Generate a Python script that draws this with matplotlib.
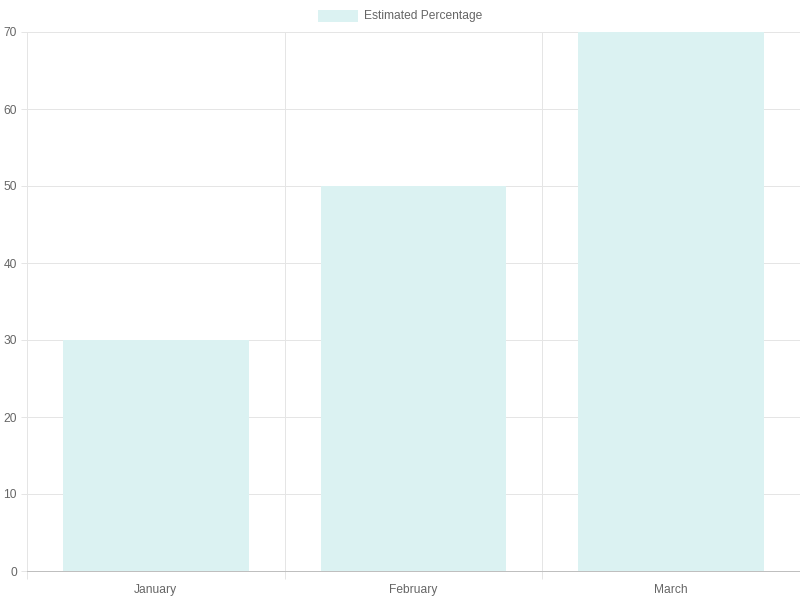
import matplotlib.pyplot as plt
from matplotlib.patches import Rectangle

months = ["January", "February", "March"]
estimated_percentage = [30, 50, 70]

bar_color = "#dbf2f2"
grid_color = "#e5e5e5"
text_color = "#666666"
fs = 8.64
px = 0.72  # one pixel in points

plt.rcParams['font.family'] = ['Liberation Sans', 'DejaVu Sans']

fig = plt.figure(figsize=(8, 6), dpi=100)
ax = fig.add_axes([27 / 800, 29 / 600, 773 / 800, 539 / 600])

x = list(range(len(months)))
ax.bar(x, estimated_percentage, width=0.72, color=bar_color, zorder=2)

ax.set_xlim(-0.5, len(months) - 0.5)
ax.set_ylim(0, 70)
ax.set_yticks(range(0, 71, 10))
ax.set_xticks(x)
ax.set_xticklabels(months)
ax.set_xticks([i - 0.5 for i in range(len(months) + 1)], minor=True)

ax.grid(True, axis='y', which='major', color=grid_color, linewidth=px, zorder=0)
ax.grid(True, axis='x', which='minor', color=grid_color, linewidth=px, zorder=0)
ax.tick_params(axis='x', which='major', length=0, pad=13 * px, labelsize=fs, labelcolor=text_color)
ax.tick_params(axis='x', which='minor', length=8 * px, color=grid_color, width=px)
ax.tick_params(axis='y', length=6 * px, color=grid_color, width=px, pad=4 * px,
               labelsize=fs, labelcolor=text_color)

for side in ['top', 'right']:
    ax.spines[side].set_visible(False)
ax.spines['left'].set_color(grid_color)
ax.spines['left'].set_linewidth(px)
ax.spines['bottom'].set_color("#bfbfbf")
ax.spines['bottom'].set_linewidth(px)

# legend
fig.patches.append(Rectangle((318 / 800, 1 - 22 / 600), 40 / 800, 12 / 600,
                             transform=fig.transFigure, facecolor=bar_color,
                             edgecolor='none'))
fig.text(364 / 800, 1 - 16.5 / 600, "Estimated Percentage", fontsize=fs,
         color=text_color, va='center', ha='left')

fig.savefig("out.png", dpi=100)
